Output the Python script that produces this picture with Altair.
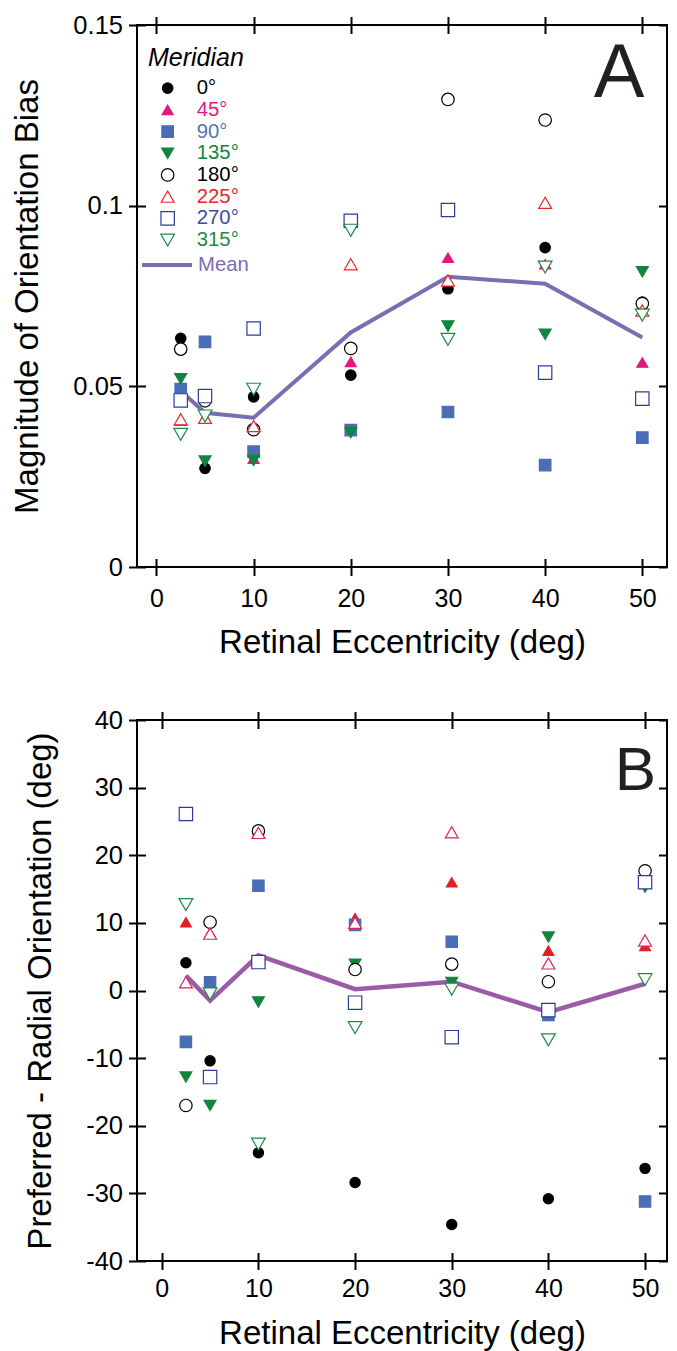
import altair as alt
import pandas as pd

FONT = "Liberation Sans"

# ---------------- data ----------------
eccentricity = [2.5, 5, 10, 20, 30, 40, 50]
meridians = ["0°", "45°", "90°", "135°", "180°", "225°", "270°", "315°"]

# Panel A: magnitude of orientation bias
bias_0 = [0.0633, 0.0273, 0.0471, 0.0531, 0.0770, 0.0884, 0.0733]
bias_45 = [0.0405, 0.0470, 0.0300, 0.0568, 0.0856, 0.0838, 0.0566]
bias_90 = [0.0492, 0.0623, 0.0319, 0.0379, 0.0429, 0.0282, 0.0358]
bias_135 = [0.0521, 0.0293, 0.0295, 0.0372, 0.0667, 0.0644, 0.0817]
bias_180 = [0.0603, 0.0460, 0.0380, 0.0605, 0.1294, 0.1237, 0.0729]
bias_225 = [0.0409, 0.0413, 0.0390, 0.0838, 0.0793, 0.1008, 0.0710]
bias_270 = [0.0461, 0.0473, 0.0660, 0.0958, 0.0988, 0.0538, 0.0466]
bias_315 = [0.0367, 0.0418, 0.0492, 0.0932, 0.0630, 0.0830, 0.0697]
bias_mean = [0.0487, 0.0427, 0.0413, 0.0649, 0.0803, 0.0784, 0.0635]

# Panel B: preferred - radial orientation (deg)
pref_0 = [4.1, -10.4, -24.0, -28.4, -34.6, -30.8, -26.3]
pref_45 = [10.1, 8.5, 23.5, 10.7, 16.0, 5.9, 6.6]
pref_90 = [-7.6, 1.2, 15.5, 9.7, 7.2, -3.6, -31.2]
pref_135 = [-12.8, -17.0, -1.7, 3.9, 1.2, 7.9, 15.3]
pref_180 = [-17.0, 10.1, 23.6, 3.1, 3.9, 1.3, 17.7]
pref_225 = [1.2, 8.4, 23.3, 10.0, 23.4, 4.0, 7.4]
pref_270 = [26.1, -12.8, 4.2, -1.8, -6.9, -2.9, 16.0]
pref_315 = [12.7, -0.5, -22.7, -5.5, 0.2, -7.3, 1.6]
pref_mean = [2.2, -1.5, 5.2, 0.2, 1.3, -3.2, 1.0]

x_ticks = [0, 10, 20, 30, 40, 50]
a_ticks = [0, 0.05, 0.1, 0.15]
b_ticks = [-40, -30, -20, -10, 0, 10, 20, 30, 40]

panel_letters = ["A", "B"]
letter_pos_a = {"x": [47.6], "y": [0.1302]}
letter_pos_b = {"x": [49.0], "y": [29.7]}

# ---------------- styles ----------------
shapes = ["circle", "triangle-up", "square", "triangle-down",
          "circle", "triangle-up", "square", "triangle-down"]
fills_a = ["#000000", "#e4197d", "#4a6db5", "#13843f", "white", "white", "white", "white"]
strokes_a = ["#000000", "#e4197d", "#4a6db5", "#13843f", "#000000", "#e8262b", "#2b3d97", "#1e8a45"]
sizes_a = [110, 190, 120, 190, 90, 190, 110, 200]
fills_b = ["#000000", "#e41f26", "#4a6db5", "#13843f", "white", "white", "white", "white"]
strokes_b = ["#000000", "#e41f26", "#4a6db5", "#13843f", "#000000", "#e0245e", "#2b3d97", "#1e8a45"]
sizes_b = [105, 190, 110, 190, 55, 125, 70, 120]
label_colors = ["#000000", "#e4197d", "#5574b9", "#13843f", "#000000", "#e8262b", "#3a4ea0", "#1e8a45"]
mean_color_a = "#7b6db2"
mean_color_b = "#9b5ca7"


def long_df(series):
    rows = []
    for m, vals in zip(meridians, series):
        for e, v in zip(eccentricity, vals):
            rows.append({"ecc": e, "value": v, "meridian": m})
    return pd.DataFrame(rows)


df_a = long_df([bias_0, bias_45, bias_90, bias_135, bias_180, bias_225, bias_270, bias_315])
df_b = long_df([pref_0, pref_45, pref_90, pref_135, pref_180, pref_225, pref_270, pref_315])
mean_a = pd.DataFrame({"ecc": eccentricity, "value": bias_mean, "series": "Mean"})
mean_b = pd.DataFrame({"ecc": eccentricity, "value": pref_mean, "series": "Mean"})

label_expr = ""
for m, c in zip(meridians[1:], label_colors[1:]):
    label_expr += f"datum.value == '{m}' ? '{c}' : "
label_expr += "'#000000'"

TICK = dict(tickSize=17, offset=-8.5, domain=False, grid=False, tickColor="black",
            tickWidth=2)
TICK_IN = dict(tickSize=8.5, offset=-8.5, domain=False, grid=False, tickColor="black",
               tickWidth=2)


def axis_x_bottom(label_pad, title_pad):
    return alt.Axis(orient="bottom", values=x_ticks, labelFontSize=25, labelFont=FONT,
                    labelColor="black", labelPadding=label_pad,
                    title="Retinal Eccentricity (deg)", titleFont=FONT, titleFontSize=33,
                    titleFontWeight="normal", titleColor="black", titlePadding=title_pad,
                    **TICK)


def axis_x_top():
    return alt.Axis(orient="top", values=x_ticks, labels=False, title=None, **TICK)


def axis_y_left(values, title, fmt=None, expr=None):
    kw = dict(orient="left", values=values, labelFontSize=25.5, labelFont=FONT,
              labelColor="black", labelPadding=6, title=title, titleFont=FONT,
              titleFontSize=33, titleFontWeight="normal", titleColor="black",
              titlePadding=28, **TICK)
    if fmt:
        kw["format"] = fmt
    if expr:
        kw["labelExpr"] = expr
    return alt.Axis(**kw)


def axis_y_right(values):
    return alt.Axis(orient="right", values=values, labels=False, title=None, **TICK_IN)


# ---------------- panel A ----------------
xs_a = alt.Scale(domain=[-2.0, 52.54], nice=False, zero=False)
ys_a = alt.Scale(domain=[0, 0.15], nice=False)

meridian_legend = alt.Legend(
    title="Meridian", orient="none", legendX=11, legendY=21, padding=0,
    titleFont=FONT, titleFontSize=25, titleFontStyle="italic", titleFontWeight="normal",
    titleColor="black", titlePadding=7,
    labelFont=FONT, labelFontSize=20.3, labelColor=alt.ExprRef(expr=label_expr),
    labelOffset=19, symbolOffset=9.5, rowPadding=0.7, symbolStrokeWidth=1.2,
    symbolOpacity=1,
)
mean_legend = alt.Legend(
    title=None, orient="none", legendX=3, legendY=213, padding=0,
    symbolType="stroke", symbolSize=2500, symbolStrokeWidth=4,
    labelFont=FONT, labelFontSize=20.3, labelColor=mean_color_a, labelOffset=4,
)

line_a = alt.Chart(mean_a).mark_line(strokeWidth=4).encode(
    x=alt.X("ecc:Q", scale=xs_a, axis=axis_x_top()),
    y=alt.Y("value:Q", scale=ys_a, axis=axis_y_right(a_ticks)),
    color=alt.Color("series:N", scale=alt.Scale(domain=["Mean"], range=[mean_color_a]),
                    legend=mean_legend),
)
pts_a = alt.Chart(df_a).mark_point(filled=True, opacity=1, strokeWidth=1.2).encode(
    x=alt.X("ecc:Q", scale=xs_a, axis=axis_x_bottom(11, 15)),
    y=alt.Y("value:Q", scale=ys_a,
            axis=axis_y_left(a_ticks, "Magnitude of Orientation Bias", fmt=".2~f")),
    shape=alt.Shape("meridian:N", scale=alt.Scale(domain=meridians, range=shapes),
                    legend=meridian_legend),
    fill=alt.Fill("meridian:N", scale=alt.Scale(domain=meridians, range=fills_a),
                  legend=meridian_legend),
    stroke=alt.Stroke("meridian:N", scale=alt.Scale(domain=meridians, range=strokes_a),
                      legend=meridian_legend),
    size=alt.Size("meridian:N", scale=alt.Scale(domain=meridians, range=sizes_a),
                  legend=meridian_legend),
)
letter_a = alt.Chart(pd.DataFrame({**letter_pos_a, "t": [panel_letters[0]]})).mark_text(
    font=FONT, fontSize=76, color="#231f20", align="center", baseline="alphabetic"
).encode(
    x=alt.X("x:Q", scale=xs_a, axis=None),
    y=alt.Y("y:Q", scale=ys_a, axis=None),
    text="t:N",
)
panel_a = alt.layer(line_a, pts_a, letter_a).resolve_axis(
    x="independent", y="independent"
).properties(width=530, height=542)

# ---------------- panel B ----------------
xs_b = alt.Scale(domain=[-2.56, 52.27], nice=False, zero=False)
ys_b = alt.Scale(domain=[-40, 40], nice=False)

line_b = alt.Chart(mean_b).mark_line(strokeWidth=4.5).encode(
    x=alt.X("ecc:Q", scale=xs_b, axis=axis_x_top()),
    y=alt.Y("value:Q", scale=ys_b, axis=axis_y_right(b_ticks)),
    color=alt.Color("series:N", scale=alt.Scale(domain=["Mean"], range=[mean_color_b]),
                    legend=None),
)
pts_b = alt.Chart(df_b).mark_point(filled=True, opacity=1, strokeWidth=1.2).encode(
    x=alt.X("ecc:Q", scale=xs_b, axis=axis_x_bottom(7, 16)),
    y=alt.Y("value:Q", scale=ys_b,
            axis=axis_y_left(b_ticks, "Preferred - Radial Orientation (deg)",
                             expr="'' + datum.value")),
    shape=alt.Shape("meridian:N", scale=alt.Scale(domain=meridians, range=shapes), legend=None),
    fill=alt.Fill("meridian:N", scale=alt.Scale(domain=meridians, range=fills_b), legend=None),
    stroke=alt.Stroke("meridian:N", scale=alt.Scale(domain=meridians, range=strokes_b),
                      legend=None),
    size=alt.Size("meridian:N", scale=alt.Scale(domain=meridians, range=sizes_b), legend=None),
)
letter_b = alt.Chart(pd.DataFrame({**letter_pos_b, "t": [panel_letters[1]]})).mark_text(
    font=FONT, fontSize=62, color="#231f20", align="center", baseline="alphabetic"
).encode(
    x=alt.X("x:Q", scale=xs_b, axis=None),
    y=alt.Y("y:Q", scale=ys_b, axis=None),
    text="t:N",
)
panel_b = alt.layer(line_b, pts_b, letter_b).resolve_axis(
    x="independent", y="independent"
).properties(width=530, height=541)

chart = alt.vconcat(panel_a, panel_b, spacing=153, bounds="flush").resolve_scale(
    x="independent", y="independent", shape="independent", fill="independent",
    stroke="independent", size="independent", color="independent",
).properties(
    padding={"left": 2, "top": 4, "right": 0, "bottom": 5}
).configure(font=FONT).configure_view(stroke="black", strokeWidth=2)

chart.save("out.html", embed_options={"renderer": "svg", "actions": False})
